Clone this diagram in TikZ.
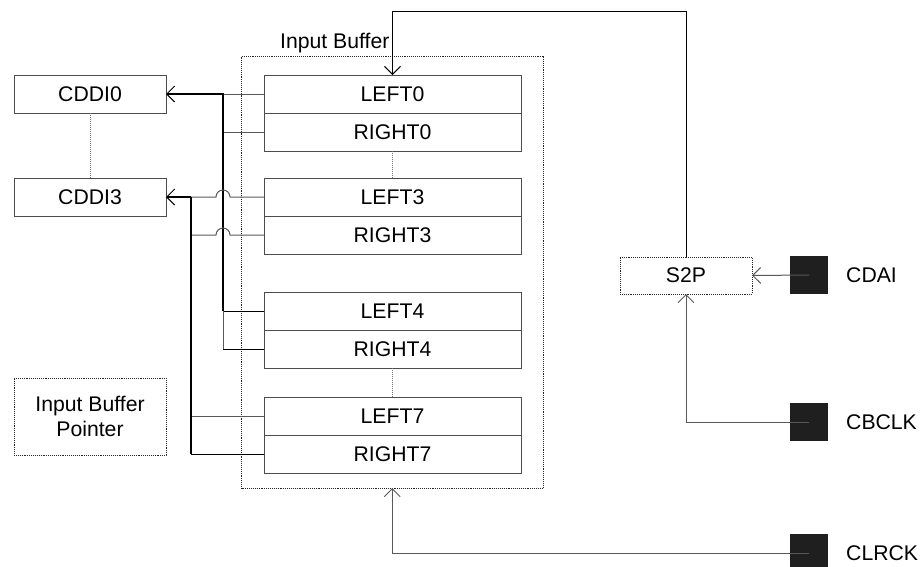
\documentclass[tikz,border=0pt]{standalone}
\usepackage{fontspec}
\setmainfont{Liberation Sans}
\usepackage{tikz}
\usetikzlibrary{positioning}
\usetikzlibrary{arrows.meta}

\begin{document}
\begin{tikzpicture}[
    x = 1pt,
    y = -1pt,
    font = \fontsize{21.2}{25}\selectfont,
    >={Straight Barb[length=8pt,width=16pt,line width=1pt]},
    cellf/.style = {
      rectangle,
      draw=black!70,
      line width=1pt,
      minimum width=257pt,
      minimum height=38pt,
      inner sep=0pt,
      outer sep=0pt
    },
    cddif/.style = {
      cellf,
      minimum width=152pt
    },
    dotf/.style = {
      rectangle,
      draw=black!85,
      densely dotted,
      line width=0.9pt,
      inner sep=0pt,
      outer sep=0pt
    },
    padf/.style = {
      rectangle,
      fill=black!88,
      minimum size=38pt,
      inner sep=0pt,
      outer sep=0pt
    },
    wiref/.style = {
      draw=black!65,
      line width=1pt
    },
    busf/.style = {
      draw=black,
      line width=2pt
    },
    linkf/.style = {
      draw=black!55,
      densely dotted,
      line width=1pt
    }
  ]
    \clip (0,0) rectangle (924,566);

    % input buffer
    \node[dotf, minimum width=301.5pt, minimum height=432pt] (ibuf) at (392.25,272) {};
    \node[anchor=base west, inner sep=0pt] (ibname) at (280,48) {Input Buffer};
    \node[cellf] (left0) at (392.5,94) {LEFT0};
    \node[cellf] (right0) [below=0pt of left0] {RIGHT0};
    \node[cellf] (left3) at (392.5,197) {LEFT3};
    \node[cellf] (right3) [below=0pt of left3] {RIGHT3};
    \node[cellf] (left4) at (392.5,311) {LEFT4};
    \node[cellf] (right4) [below=0pt of left4] {RIGHT4};
    \node[cellf] (left7) at (392.5,416) {LEFT7};
    \node[cellf] (right7) [below=0pt of left7] {RIGHT7};
    \draw[linkf] (right0) -- (left3);
    \draw[linkf] (right4) -- (left7);

    % left side
    \node[cddif] (cddi0) at (90,94) {CDDI0};
    \node[cddif] (cddi3) at (90,197) {CDDI3};
    \draw[linkf] (cddi0) -- (cddi3);
    \node[dotf, minimum width=152pt, minimum height=77pt, align=center] (ibp) at (90,416.5) {Input Buffer\\Pointer};

    % serial to parallel and pins
    \node[dotf, minimum width=132pt, minimum height=37pt] (s2p) at (686,275.5) {S2P};
    \node[padf] (cdai) at (809,275) {};
    \node[padf] (cbclk) at (809,422) {};
    \node[padf] (clrck) at (809,553) {};
    \node[inner sep=0pt] (cdaitext) [right=18pt of cdai] {CDAI};
    \node[inner sep=0pt] (cbclktext) [right=18pt of cbclk] {CBCLK};
    \node[inner sep=0pt] (clrcktext) [right=18pt of clrck] {CLRCK};

    \coordinate (bus0) at (223,0);
    \coordinate (bus3) at (191,0);
    \coordinate (fb) at (0,11);

    \draw[wiref, draw=black, ->] (s2p.north) |- (fb -| left0.north) -- (left0.north);
    \draw[wiref, ->] (cdai.center) -- (s2p.east);
    \draw[wiref, ->] (cbclk.center) -| (s2p.south);
    \draw[wiref, ->] (clrck.center) -| (ibuf.south);

    % CDDI0 bus
    \draw[wiref] (bus0 |- left0.west) -- (left0.west);
    \draw[wiref] (bus0 |- right0.west) -- (right0.west);
    \draw[wiref, draw=black] (bus0 |- left4.west) -- (left4.west);
    \draw[wiref] (bus0 |- left4.west) -- (bus0 |- right4.west);
    \draw[wiref, draw=black] (bus0 |- right4.west) -- (right4.west);
    \draw[busf, ->] (bus0 |- left4.west) -- (bus0 |- cddi0.east) -- (cddi0.east);

    % CDDI3 bus
    \draw[wiref] (bus3 |- left3.west) -- ++(25,0) arc[start angle=180, end angle=0, radius=7pt] -- (left3.west);
    \draw[wiref] (bus3 |- right3.west) -- ++(25,0) arc[start angle=180, end angle=0, radius=7pt] -- (right3.west);
    \draw[wiref] (bus3 |- left7.west) -- (left7.west);
    \draw[wiref, draw=black] (bus3 |- right7.west) -- (right7.west);
    \draw[wiref, draw=black, line width=1.2pt] (bus3 |- cddi3.east) -- (bus3 |- right7.west);
    \draw[busf, ->] (bus3 |- cddi3.east) -- (cddi3.east);
  \end{tikzpicture}
\end{document}
